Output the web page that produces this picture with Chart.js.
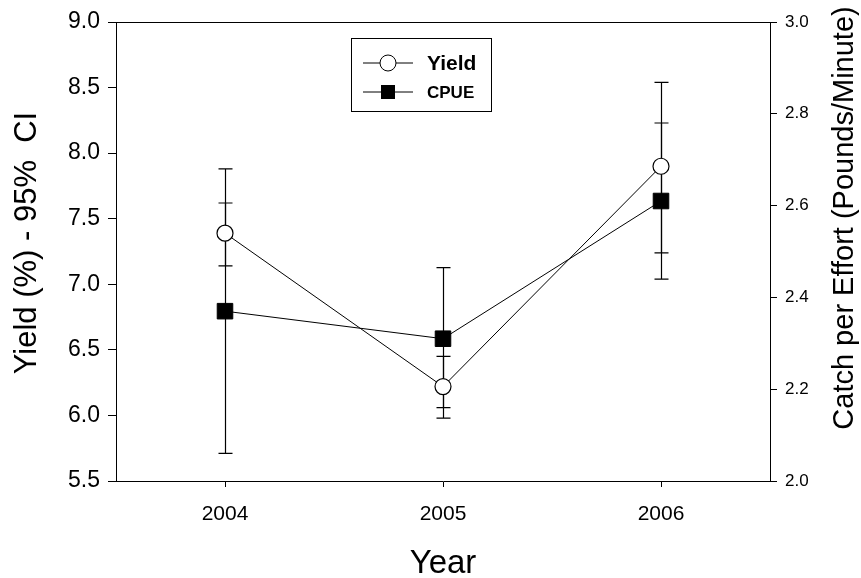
<!DOCTYPE html>
<html>
<head>
<meta charset="utf-8">
<script src="https://cdn.jsdelivr.net/npm/chart.js@4.4.0/dist/chart.umd.min.js"></script>
<style>
  html, body { margin: 0; padding: 0; background: #fff; }
  #wrap { width: 861px; height: 578px; }
</style>
</head>
<body>
<div id="wrap"><canvas id="yieldChart" width="861" height="578"></canvas></div>
<script>
// Yield and CPUE by year, with 95% CI bars

const years = [2004, 2005, 2006];

const yieldMean = [7.39, 6.22, 7.90];
const yieldLow  = [7.14, 5.98, 7.24];
const yieldHigh = [7.62, 6.45, 8.54];

const cpueMean = [2.37, 2.31, 2.61];
const cpueLow  = [2.06, 2.16, 2.44];
const cpueHigh = [2.68, 2.465, 2.78];

const FONT = "'Liberation Sans', Arial, sans-serif";

// draws the vertical CI bars behind the markers
const errorBars = {
    id: 'errorBars',
    beforeDatasetsDraw(chart) {
        const ctx = chart.ctx;
        const x = chart.scales.x;
        const sets = [
            { scale: chart.scales.y, low: yieldLow, high: yieldHigh },
            { scale: chart.scales.y1, low: cpueLow, high: cpueHigh }
        ];
        ctx.save();
        ctx.strokeStyle = '#000';
        ctx.lineWidth = 1.2;
        sets.forEach(s => {
            years.forEach((yr, i) => {
                const px = Math.round(x.getPixelForValue(yr)) + 0.5;
                const top = s.scale.getPixelForValue(s.high[i]);
                const bot = s.scale.getPixelForValue(s.low[i]);
                ctx.beginPath();
                ctx.moveTo(px, top);
                ctx.lineTo(px, bot);
                ctx.moveTo(px - 7, top);
                ctx.lineTo(px + 7, top);
                ctx.moveTo(px - 7, bot);
                ctx.lineTo(px + 7, bot);
                ctx.stroke();
            });
        });
        ctx.restore();
    }
};

// top border of the frame, boxed legend, both y axis titles (read upward)
const frameAndLegend = {
    id: 'frameAndLegend',
    afterDraw(chart) {
        const ctx = chart.ctx;
        const a = chart.chartArea;
        ctx.save();
        ctx.strokeStyle = '#000';
        ctx.lineWidth = 1;
        ctx.beginPath();
        ctx.moveTo(a.left, a.top + 0.5);
        ctx.lineTo(a.right, a.top + 0.5);
        ctx.stroke();

        // legend box
        const bx = 351.5, by = 38.5, bw = 140, bh = 73;
        ctx.strokeRect(bx, by, bw, bh);
        const items = [
            { ds: chart.data.datasets[0], y: 63, size: 21 },
            { ds: chart.data.datasets[1], y: 92, size: 17 }
        ];
        items.forEach(it => {
            ctx.beginPath();
            ctx.moveTo(363, it.y);
            ctx.lineTo(413, it.y);
            ctx.stroke();
            ctx.fillStyle = it.ds.pointBackgroundColor;
            ctx.beginPath();
            if (it.ds.pointStyle === 'rect') {
                ctx.rect(381, it.y - 7, 14, 14);
                ctx.fill();
            } else {
                ctx.arc(388, it.y, 8, 0, Math.PI * 2);
                ctx.fill();
                ctx.stroke();
            }
            ctx.fillStyle = '#000';
            ctx.font = 'bold ' + it.size + 'px ' + FONT;
            ctx.textBaseline = 'middle';
            ctx.textAlign = 'left';
            ctx.fillText(it.ds.label, 427, it.y + 1);
        });

        ctx.textAlign = 'center';
        ctx.textBaseline = 'middle';
        ctx.fillStyle = '#000';

        // left axis title
        ctx.save();
        ctx.translate(27, 243);
        ctx.rotate(-Math.PI / 2);
        ctx.font = '31px ' + FONT;
        ctx.fillText('Yield (%) - 95%  CI', 0, 0);
        ctx.restore();

        // right axis title
        ctx.translate(845, 218);
        ctx.rotate(-Math.PI / 2);
        ctx.font = '29px ' + FONT;
        ctx.fillText('Catch per Effort (Pounds/Minute)', 0, 0);
        ctx.restore();
    }
};

const ctx = document.getElementById('yieldChart').getContext('2d');

new Chart(ctx, {
    type: 'line',
    data: {
        datasets: [
            {
                label: 'Yield',
                data: years.map((yr, i) => ({ x: yr, y: yieldMean[i] })),
                yAxisID: 'y',
                borderColor: '#000',
                borderWidth: 1,
                pointStyle: 'circle',
                pointRadius: 8,
                pointBackgroundColor: '#fff',
                pointBorderColor: '#000',
                pointBorderWidth: 1.2,
                tension: 0
            },
            {
                label: 'CPUE',
                data: years.map((yr, i) => ({ x: yr, y: cpueMean[i] })),
                yAxisID: 'y1',
                borderColor: '#000',
                borderWidth: 1,
                pointStyle: 'rect',
                pointRadius: 11,
                pointBackgroundColor: '#000',
                pointBorderColor: '#000',
                pointBorderWidth: 1,
                tension: 0
            }
        ]
    },
    options: {
        responsive: false,
        animation: false,
        layout: { padding: { top: 22, left: 0, right: 0, bottom: 0 } },
        scales: {
            x: {
                type: 'linear',
                min: 2003.5,
                max: 2006.5,
                afterBuildTicks: scale => {
                    scale.ticks = years.map(v => ({ value: v }));
                },
                afterFit: scale => { scale.height = 97; },
                grid: { drawOnChartArea: false, drawTicks: true, tickLength: 6, tickColor: '#000' },
                border: { display: true, color: '#000', width: 1 },
                ticks: {
                    color: '#000',
                    padding: 15,
                    font: { family: FONT, size: 21 },
                    callback: v => String(v)
                },
                title: {
                    display: true,
                    text: 'Year',
                    color: '#000',
                    padding: { top: 0, bottom: -6 },
                    font: { family: FONT, size: 33 }
                }
            },
            y: {
                position: 'left',
                min: 5.5,
                max: 9.0,
                afterFit: scale => { scale.width = 116; },
                grid: { drawOnChartArea: false, drawTicks: true, tickLength: 8, tickColor: '#000' },
                border: { display: true, color: '#000', width: 1 },
                ticks: {
                    stepSize: 0.5,
                    color: '#000',
                    padding: 8,
                    font: { family: FONT, size: 23 },
                    callback: v => v.toFixed(1)
                }
            },
            y1: {
                position: 'right',
                min: 2.0,
                max: 3.0,
                afterFit: scale => { scale.width = 91; },
                grid: { drawOnChartArea: false, drawTicks: true, tickLength: 7, tickColor: '#000' },
                border: { display: true, color: '#000', width: 1 },
                ticks: {
                    stepSize: 0.2,
                    color: '#000',
                    padding: 8,
                    font: { family: FONT, size: 17 },
                    callback: v => v.toFixed(1)
                }
            }
        },
        plugins: {
            legend: { display: false },
            tooltip: { enabled: false }
        }
    },
    plugins: [errorBars, frameAndLegend]
});
</script>
</body>
</html>
